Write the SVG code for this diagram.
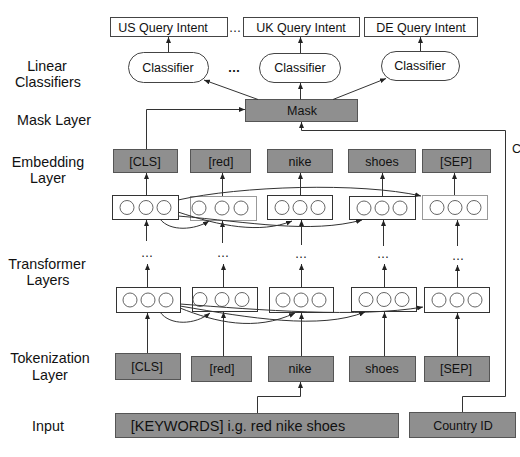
<svg xmlns="http://www.w3.org/2000/svg" width="520" height="457" viewBox="0 0 520 457">
<defs>
<marker id="ah" markerWidth="6" markerHeight="5" refX="6" refY="2.5" orient="auto" markerUnits="userSpaceOnUse"><path d="M0,0 L6,2.5 L0,5 z" fill="#222"/></marker>
<style>
text{font-family:"Liberation Sans",Arial,sans-serif;fill:#111}
.lab{font-size:14.3px;text-anchor:middle}
.t{font-size:12.5px;text-anchor:middle}
.w{fill:#fff;stroke:#444;stroke-width:1}
.g{fill:#8f8f8f;stroke:#555;stroke-width:1}
.nb{fill:#fff;stroke:#333;stroke-width:1}
.nl{fill:#fff;stroke:#999;stroke-width:1}
.c{fill:#fff;stroke:#555;stroke-width:0.9}
.ln{fill:none;stroke:#333;stroke-width:1}
.ar{fill:none;stroke:#333;stroke-width:1;marker-end:url(#ah)}
</style>
</defs>
<rect width="520" height="457" fill="#fff"/>

<g id="labels">
<text class="lab" x="47" y="71">Linear</text>
<text class="lab" x="48" y="87">Classifiers</text>
<text class="lab" x="54" y="125">Mask Layer</text>
<text class="lab" x="48" y="167">Embedding</text>
<text class="lab" x="48" y="183">Layer</text>
<text class="lab" x="47" y="269">Transformer</text>
<text class="lab" x="48" y="285">Layers</text>
<text class="lab" x="50" y="363">Tokenization</text>
<text class="lab" x="50" y="380">Layer</text>
<text class="lab" x="48" y="431">Input</text>
<text class="t" x="512" y="153" style="text-anchor:start">C</text>
</g>

<g id="intents">
<g id="us-intent"><rect class="w" x="110.5" y="17.5" width="117" height="19"/><text class="t" x="163" y="32">US Query Intent</text></g>
<text class="t" x="235" y="32">…</text>
<g id="uk-intent"><rect class="w" x="243.5" y="17.5" width="116" height="19"/><text class="t" x="301" y="32">UK Query Intent</text></g>
<g id="de-intent"><rect class="w" x="364.5" y="17.5" width="113" height="19"/><text class="t" x="421" y="32">DE Query Intent</text></g>
</g>

<g id="classifiers">
<g id="cls1"><rect class="w" x="128.5" y="52.5" width="80" height="30" rx="15"/><text class="t" x="168" y="72">Classifier</text></g>
<text class="t" x="234" y="72" style="font-weight:bold">…</text>
<g id="cls2"><rect class="w" x="259.5" y="53.5" width="81" height="29" rx="14.5"/><text class="t" x="300" y="72">Classifier</text></g>
<g id="cls3"><rect class="w" x="381.5" y="51.5" width="78" height="29" rx="14.5"/><text class="t" x="420" y="70">Classifier</text></g>
</g>

<g id="mask"><rect class="g" x="245.5" y="99.5" width="112" height="22"/><text class="t" x="302" y="115">Mask</text></g>

<g id="embedding-tokens">
<g id="e-cls"><rect class="g" x="113.5" y="149.5" width="64" height="23"/><text class="t" x="145" y="166">[CLS]</text></g>
<g id="e-red"><rect class="g" x="190.5" y="149.5" width="60" height="23"/><text class="t" x="221" y="166">[red]</text></g>
<g id="e-nike"><rect class="g" x="267.5" y="149.5" width="65" height="23"/><text class="t" x="300" y="166">nike</text></g>
<g id="e-shoes"><rect class="g" x="348.5" y="149.5" width="67" height="23"/><text class="t" x="382" y="166">shoes</text></g>
<g id="e-sep"><rect class="g" x="422.5" y="149.5" width="68" height="23"/><text class="t" x="456" y="166">[SEP]</text></g>
</g>

<g id="embedding-nodes">
<g id="en1"><rect class="nb" x="112.5" y="195.5" width="66" height="24"/><circle class="c" cx="127" cy="207.5" r="7"/><circle class="c" cx="146" cy="207.5" r="7"/><circle class="c" cx="164" cy="207.5" r="7"/></g>
<g id="en2"><rect class="nl" x="190.5" y="196.5" width="66" height="24"/><circle class="c" cx="199" cy="208" r="7"/><circle class="c" cx="222" cy="208" r="7"/><circle class="c" cx="241" cy="208" r="7"/></g>
<g id="en3"><rect class="nb" x="267.5" y="195.5" width="65" height="24"/><circle class="c" cx="282" cy="207.5" r="7"/><circle class="c" cx="300" cy="207.5" r="7"/><circle class="c" cx="318" cy="207.5" r="7"/></g>
<g id="en4"><rect class="nb" x="349.5" y="196.5" width="66" height="23"/><circle class="c" cx="364" cy="208" r="7"/><circle class="c" cx="382" cy="208" r="7"/><circle class="c" cx="400" cy="208" r="7"/></g>
<g id="en5"><rect class="nl" x="422.5" y="195.5" width="65" height="24"/><circle class="c" cx="437" cy="207.5" r="7"/><circle class="c" cx="455" cy="207.5" r="7"/><circle class="c" cx="474" cy="207.5" r="7"/></g>
</g>

<g id="ellipses">
<text class="t" x="147" y="257">…</text>
<text class="t" x="223" y="257">…</text>
<text class="t" x="301" y="258">…</text>
<text class="t" x="383" y="258">…</text>
<text class="t" x="458" y="260">…</text>
</g>

<g id="transformer-nodes">
<g id="tn1"><rect class="nb" x="116.5" y="287.5" width="64" height="25"/><circle class="c" cx="130" cy="300" r="7"/><circle class="c" cx="148" cy="300" r="7"/><circle class="c" cx="166" cy="300" r="7"/></g>
<g id="tn2"><rect class="nb" x="192.5" y="287.5" width="65" height="24"/><circle class="c" cx="200" cy="299.5" r="7"/><circle class="c" cx="222" cy="299.5" r="7"/><circle class="c" cx="242" cy="299.5" r="7"/></g>
<g id="tn3"><rect class="nb" x="269.5" y="287.5" width="64" height="25"/><circle class="c" cx="283" cy="300" r="7"/><circle class="c" cx="301" cy="300" r="7"/><circle class="c" cx="319" cy="300" r="7"/></g>
<g id="tn4"><rect class="nb" x="351.5" y="287.5" width="65" height="24"/><circle class="c" cx="366" cy="299.5" r="7"/><circle class="c" cx="384" cy="299.5" r="7"/><circle class="c" cx="402" cy="299.5" r="7"/></g>
<g id="tn5"><rect class="nb" x="424.5" y="287.5" width="65" height="25"/><circle class="c" cx="439" cy="300" r="7"/><circle class="c" cx="457" cy="300" r="7"/><circle class="c" cx="475" cy="300" r="7"/></g>
</g>

<g id="tokenization">
<g id="t-cls"><rect class="g" x="115.5" y="353.5" width="65" height="26"/><text class="t" x="147" y="371">[CLS]</text></g>
<g id="t-red"><rect class="g" x="191.5" y="356.5" width="60" height="25"/><text class="t" x="222" y="373">[red]</text></g>
<g id="t-nike"><rect class="g" x="268.5" y="356.5" width="65" height="25"/><text class="t" x="300" y="373">nike</text></g>
<g id="t-shoes"><rect class="g" x="349.5" y="356.5" width="66" height="25"/><text class="t" x="382" y="373">shoes</text></g>
<g id="t-sep"><rect class="g" x="424.5" y="356.5" width="65" height="25"/><text class="t" x="456" y="373">[SEP]</text></g>
</g>

<g id="input"><rect class="g" x="115.5" y="413.5" width="283" height="24"/><text x="238" y="431" style="font-size:14.5px;text-anchor:middle">[KEYWORDS] i.g. red nike shoes</text></g>
<g id="country"><rect class="g" x="409.5" y="412.5" width="106" height="25"/><text class="t" x="463" y="430">Country ID</text></g>

<g id="connectors">
<line class="ar" x1="168.5" y1="52" x2="168.5" y2="37"/>
<line class="ar" x1="300.5" y1="53" x2="300.5" y2="37"/>
<line class="ar" x1="420.5" y1="51" x2="420.5" y2="37"/>
<line class="ar" x1="258" y1="99.5" x2="204" y2="80"/>
<line class="ar" x1="300.5" y1="99.5" x2="300.5" y2="83"/>
<line class="ar" x1="333" y1="99.5" x2="386" y2="78.5"/>
<polyline class="ar" points="146.5,149 146.5,109.5 245,109.5"/>
<polyline class="ar" points="462.5,412 462.5,396.5 505.5,396.5 505.5,130.5 301.5,130.5 301.5,122"/>
<polyline class="ar" points="257.5,413 257.5,396.5 300.5,396.5 300.5,382"/>
<line class="ar" x1="146.5" y1="195" x2="146.5" y2="173"/>
<line class="ar" x1="222.5" y1="196" x2="222.5" y2="173"/>
<line class="ar" x1="300.5" y1="195" x2="300.5" y2="173"/>
<line class="ar" x1="382.5" y1="196" x2="382.5" y2="173"/>
<line class="ar" x1="454.5" y1="195" x2="454.5" y2="173"/>
<line class="ar" x1="146.5" y1="241" x2="146.5" y2="220"/>
<line class="ar" x1="222.5" y1="243" x2="222.5" y2="221"/>
<line class="ar" x1="301.5" y1="245" x2="301.5" y2="220"/>
<line class="ar" x1="383.5" y1="246" x2="383.5" y2="220"/>
<line class="ar" x1="457.5" y1="246" x2="457.5" y2="220"/>
<line class="ar" x1="147.5" y1="287" x2="147.5" y2="264"/>
<line class="ar" x1="223.5" y1="287" x2="223.5" y2="264"/>
<line class="ar" x1="301.5" y1="287" x2="301.5" y2="264"/>
<line class="ar" x1="384.5" y1="287" x2="384.5" y2="264"/>
<line class="ar" x1="457.5" y1="287" x2="457.5" y2="265"/>
<line class="ar" x1="147.5" y1="353" x2="147.5" y2="313"/>
<line class="ar" x1="223.5" y1="356" x2="223.5" y2="312"/>
<line class="ar" x1="301.5" y1="356" x2="301.5" y2="313"/>
<line class="ar" x1="384.5" y1="356" x2="384.5" y2="312"/>
<line class="ar" x1="457.5" y1="356" x2="457.5" y2="313"/>
<path class="ar" d="M178,200 C240,186 360,182 421,196"/>
<path class="ar" d="M160,219 C170,232 195,230 209,221"/>
<path class="ar" d="M178,212 C220,226 260,234 292,221"/>
<path class="ar" d="M178,216 C250,222 310,234 362,220"/>
<path class="ar" d="M180,304 C260,310 360,318 423,307"/>
<path class="ar" d="M160,312 C170,326 195,325 210,313"/>
<path class="ar" d="M180,308 C215,322 255,332 295,313"/>
<path class="ar" d="M180,306 C250,318 320,330 365,312"/>
</g>
</svg>
